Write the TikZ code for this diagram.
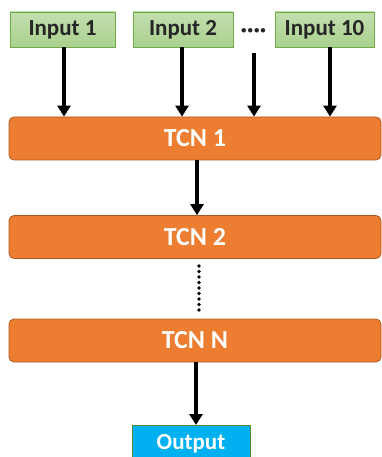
\documentclass[tikz,border=0pt]{standalone}
\usepackage{fontspec}
\setmainfont{Carlito}
\usetikzlibrary{arrows.meta}
\definecolor{ingreen}{HTML}{A9D18E}
\definecolor{inborder}{HTML}{70AD47}
\definecolor{tcnfill}{HTML}{ED7D31}
\definecolor{tcnborder}{HTML}{AE5A21}
\definecolor{outfill}{HTML}{00B0F0}
\tikzset{
  x=1pt, y=-1pt,
  inbox/.style={draw=inborder, line width=0.8pt, top color=ingreen!70, bottom color=ingreen,
    minimum height=35pt, inner sep=0pt, font=\bfseries\fontsize{23}{25}\selectfont, text=black!85},
  tcnbox/.style={draw=tcnborder, line width=0.8pt, fill=tcnfill, rounded corners=5pt,
    minimum width=372pt, minimum height=43pt, inner sep=0pt,
    font=\bfseries\fontsize{26}{28}\selectfont, text=white},
  outbox/.style={draw=inborder!80!black, line width=1pt, fill=outfill, minimum width=118pt,
    minimum height=36pt, inner sep=0pt, font=\bfseries\fontsize{23}{25}\selectfont, text=white},
  flow/.style={-{Triangle[width=13pt,length=11pt]}, line width=4pt, black},
}
\begin{document}
\begin{tikzpicture}
\useasboundingbox (0,0) rectangle (382,457);
\begin{scope}
\clip (0,0) rectangle (382,457);
\node[inbox, minimum width=105pt] (in1) at (62.5,29.5) {Input 1};
\node[inbox, minimum width=100pt] (in2) at (183,29.5) {Input 2};
\node[inbox, minimum width=99pt] (in10) at (324.5,29.5) {Input 10};
\node[font=\bfseries\fontsize{24}{26}\selectfont, inner sep=0pt, text=black!85] (dots) at (253.5,33) {····};
\node[tcnbox] (t1) at (195,138.5) {TCN 1};
\node[tcnbox] (t2) at (195,237) {TCN 2};
\node[tcnbox] (tn) at (195,340.5) {TCN N};
\node[outbox] (out) at (191,443.5) {Output};
\coordinate (d1) at (254,53);
\coordinate (dt) at (199,266);
\coordinate (db) at (199,310);
\draw[flow] (in1.south -| 64,0) -- (t1.north -| 64,0);
\draw[flow] (in2.south -| 182,0) -- (t1.north -| 182,0);
\draw[flow] (d1) -- (t1.north -| d1);
\draw[flow] (in10.south -| 330,0) -- (t1.north -| 330,0);
\draw[flow] (t1.south -| 197,0) -- (t2.north -| 197,0);
\draw[line width=3.8pt, dash pattern=on 0pt off 5.5pt, line cap=round] (dt) -- (db);
\draw[flow] (tn.south -| 196,0) -- (out.north -| 196,0);
\end{scope}
\end{tikzpicture}
\end{document}
